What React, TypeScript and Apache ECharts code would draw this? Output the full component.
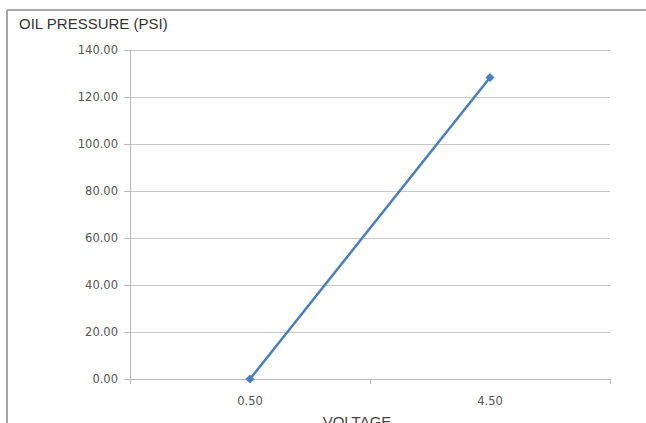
import React, { useEffect, useRef } from "react";
import * as echarts from "echarts";

const categories = ["0.50", "4.50"];
const pressure = [0, 128.3];
const yTicks = { min: 0, max: 140, interval: 20 };

export default function App() {
  const ref = useRef<HTMLDivElement>(null);
  useEffect(() => {
    document.body.style.margin = "0";
    const chart = echarts.init(ref.current!, null, { renderer: "svg" });
    chart.setOption({
      animation: false,
      backgroundColor: "#ffffff",
      grid: { left: 130, right: 36, top: 50, bottom: 44, containLabel: false },
      xAxis: {
        type: "category",
        data: categories,
        boundaryGap: true,
        axisLine: { show: true, lineStyle: { color: "#b8b8b8", width: 1 } },
        axisTick: { show: true, length: 5, lineStyle: { color: "#b8b8b8" }, alignWithLabel: false },
        axisLabel: { color: "#555", fontFamily: "DejaVu Sans", fontSize: 11.5, margin: 16 },
        splitLine: { show: false },
      },
      yAxis: {
        type: "value",
        min: yTicks.min,
        max: yTicks.max,
        interval: yTicks.interval,
        axisLine: { show: true, lineStyle: { color: "#b8b8b8", width: 1 } },
        axisTick: { show: true, length: 6, inside: false, lineStyle: { color: "#b8b8b8" } },
        axisLabel: {
          color: "#555",
          fontFamily: "DejaVu Sans",
          fontSize: 11.5,
          margin: 12,
          formatter: (v: number) => v.toFixed(2),
        },
        splitLine: { show: true, lineStyle: { color: "#c8c8c8", width: 1 } },
      },
      series: [
        {
          type: "line",
          data: pressure,
          symbol: "diamond",
          symbolSize: 9,
          lineStyle: { color: "#4a7ebb", width: 2.5 },
          itemStyle: { color: "#4a7ebb" },
        },
      ],
      graphic: [
        {
          type: "line",
          shape: { x1: 7, y1: 10, x2: 646, y2: 10 },
          style: { stroke: "#a6a6a6", lineWidth: 2 },
        },
        {
          type: "line",
          shape: { x1: 7, y1: 10, x2: 7, y2: 423 },
          style: { stroke: "#a6a6a6", lineWidth: 2 },
        },
        {
          type: "text",
          left: 19,
          top: 16,
          style: {
            text: "OIL PRESSURE (PSI)",
            fill: "#333",
            font: "normal 15px 'Liberation Sans'",
          },
        },
        {
          type: "text",
          x: 357,
          y: 414,
          style: {
            text: "VOLTAGE",
            fill: "#444",
            font: "normal 15px 'Liberation Sans'",
            textAlign: "center",
            textVerticalAlign: "top",
          },
        },
      ],
    });
    return () => chart.dispose();
  }, []);
  return <div ref={ref} style={{ width: 646, height: 423 }} />;
}
